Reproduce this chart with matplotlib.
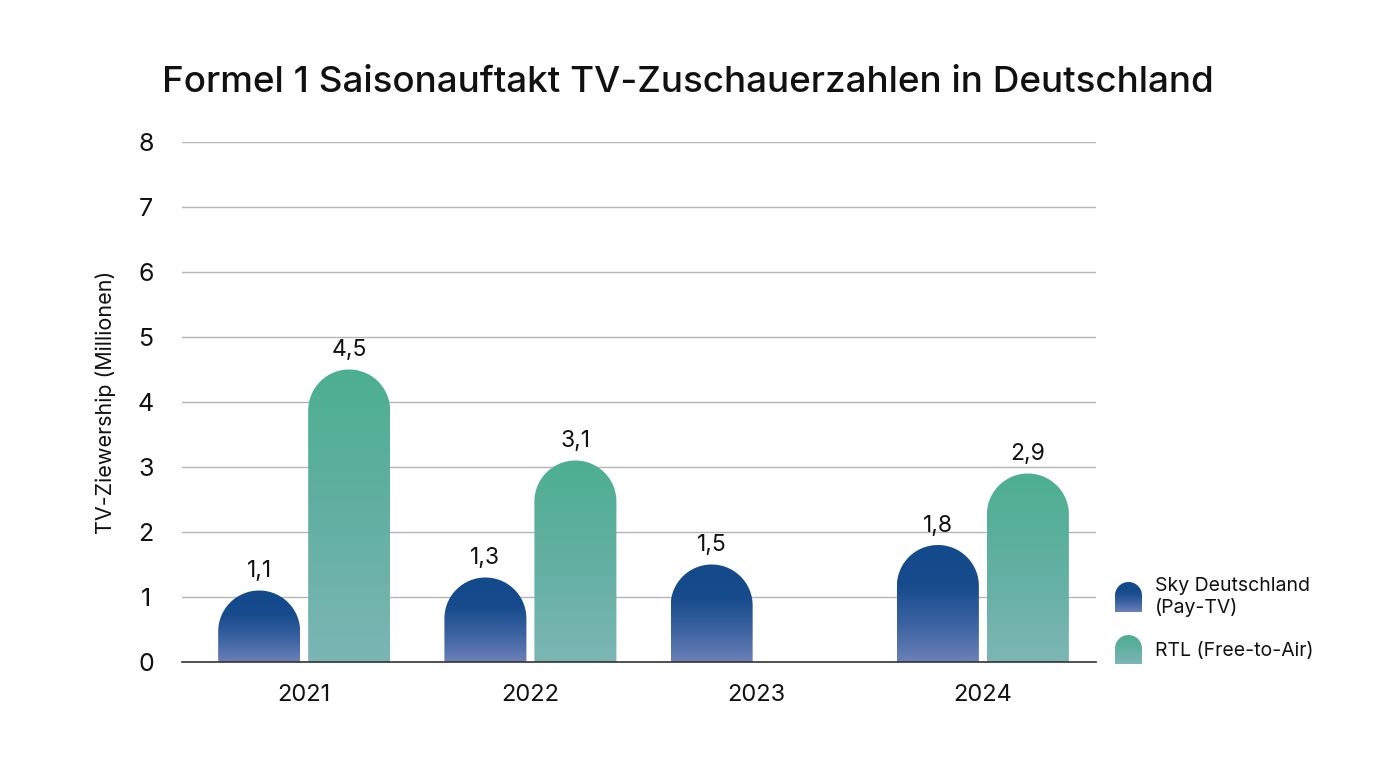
import numpy as np
import matplotlib
matplotlib.use("Agg")
import matplotlib.pyplot as plt
from matplotlib.path import Path
from matplotlib.patches import PathPatch
from matplotlib.colors import LinearSegmentedColormap

plt.rcParams['font.family'] = ['Inter', 'DejaVu Sans']

years = ["2021", "2022", "2023", "2024"]
sky = [1.1, 1.3, 1.5, 1.8]
rtl = [4.5, 3.1, None, 2.9]
series_names = ["Sky Deutschland\n(Pay-TV)", "RTL (Free-to-Air)"]
sky_colors = ["#6c80b9", "#3a62a0", "#164b8c", "#134a8c"]
rtl_colors = ["#7cb6b5", "#62b0a2", "#4caf90"]

W, H = 1376, 768
fig = plt.figure(figsize=(W / 100, H / 100), dpi=100)
ax = fig.add_axes([182 / W, 106 / H, 914 / W, 520 / H])

xmin, xmax = -0.54, 3.50
ymin, ymax = 0, 8
ax.set_xlim(xmin, xmax)
ax.set_ylim(ymin, ymax)
px_x = 914 / (xmax - xmin)
px_y = 520 / (ymax - ymin)

bar_w = 82 / px_x
offset = 45 / px_x


def rounded_bar(ax, xc, h, w, cols):
    rx = w / 2
    ry = rx * px_x / px_y
    x0, x1 = xc - rx, xc + rx
    base = max(h - ry, 0)
    t = np.linspace(np.pi, 0, 60)
    arc = np.column_stack([xc + rx * np.cos(t), base + ry * np.sin(t)])
    verts = np.vstack([[x0, 0], [x0, base], arc, [x1, 0], [x0, 0]])
    codes = [Path.MOVETO] + [Path.LINETO] * (len(verts) - 2) + [Path.CLOSEPOLY]
    patch = PathPatch(Path(verts, codes), facecolor="none", edgecolor="none")
    ax.add_patch(patch)
    cmap = LinearSegmentedColormap.from_list("g", cols)
    grad = np.linspace(0, 1, 256).reshape(-1, 1)
    im = ax.imshow(grad, cmap=cmap, extent=[x0, x1, 0, h], origin="lower",
                   aspect="auto", zorder=2, interpolation="bicubic")
    im.set_clip_path(patch)


def fmt(v):
    return f"{v:.1f}".replace(".", ",")


for i, (s, r) in enumerate(zip(sky, rtl)):
    for v, dx, cols in ((s, -offset, sky_colors), (r, offset, rtl_colors)):
        if v is None:
            continue
        rounded_bar(ax, i + dx, v, bar_w, cols)
        ax.annotate(fmt(v), (i + dx, v), xytext=(0, 6), textcoords="offset points",
                    ha="center", va="bottom", fontsize=16.5, color="#111111")

ax.set_xlim(xmin, xmax)
ax.set_ylim(ymin, ymax)
ax.set_yticks(range(0, 9))
ax.set_xticks(range(len(years)))
ax.set_xticklabels(years)
ax.tick_params(axis="both", length=0, labelsize=18, colors="#111111")
ax.tick_params(axis="y", pad=26)
ax.tick_params(axis="x", pad=16, labelsize=17)
for lbl in ax.get_yticklabels():
    lbl.set_horizontalalignment("center")
ax.grid(axis="y", color="#b5b5b5", linewidth=1)
ax.set_axisbelow(True)
for sp in ["top", "right", "left"]:
    ax.spines[sp].set_visible(False)
ax.spines["bottom"].set_color("#333333")
ax.spines["bottom"].set_linewidth(1.2)
ax.set_ylabel("TV-Ziewership (Millionen)", fontsize=15.5, labelpad=16, color="#111111")

fig.text(0.5, 1 - 83 / H, "Formel 1 Saisonauftakt TV-Zuschauerzahlen in Deutschland",
         ha="center", va="center", fontsize=26.5, fontweight="medium", color="#111111")

# legend drawn in pixel coordinates
lax = fig.add_axes([0, 0, 1, 1], zorder=-1)
lax.set_xlim(0, W)
lax.set_ylim(H, 0)
lax.axis("off")
legend_items = [(series_names[0], sky_colors, 582, 612), (series_names[1], rtl_colors, 635, 664)]
for name, cols, ytop, ybot in legend_items:
    w = 27
    xc = 1115 + w / 2
    rx = w / 2
    t = np.linspace(np.pi, 0, 40)
    arc = np.column_stack([xc + rx * np.cos(t), ytop + rx - rx * np.sin(t)])
    verts = np.vstack([[1115, ybot], [1115, ytop + rx], arc, [1115 + w, ybot], [1115, ybot]])
    codes = [Path.MOVETO] + [Path.LINETO] * (len(verts) - 2) + [Path.CLOSEPOLY]
    patch = PathPatch(Path(verts, codes), facecolor="none", edgecolor="none")
    lax.add_patch(patch)
    cmap = LinearSegmentedColormap.from_list("g", cols)
    grad = np.linspace(0, 1, 64).reshape(-1, 1)
    im = lax.imshow(grad, cmap=cmap, extent=[1115, 1115 + w, ybot, ytop],
                    origin="lower", aspect="auto")
    im.set_clip_path(patch)
lax.set_xlim(0, W)
lax.set_ylim(H, 0)
fig.text(1155 / W, 1 - 577 / H, series_names[0], ha="left", va="top", fontsize=14,
         color="#111111", linespacing=1.2)
fig.text(1155 / W, 1 - 642 / H, series_names[1], ha="left", va="top", fontsize=14,
         color="#111111")

fig.savefig("out.png", dpi=100)
